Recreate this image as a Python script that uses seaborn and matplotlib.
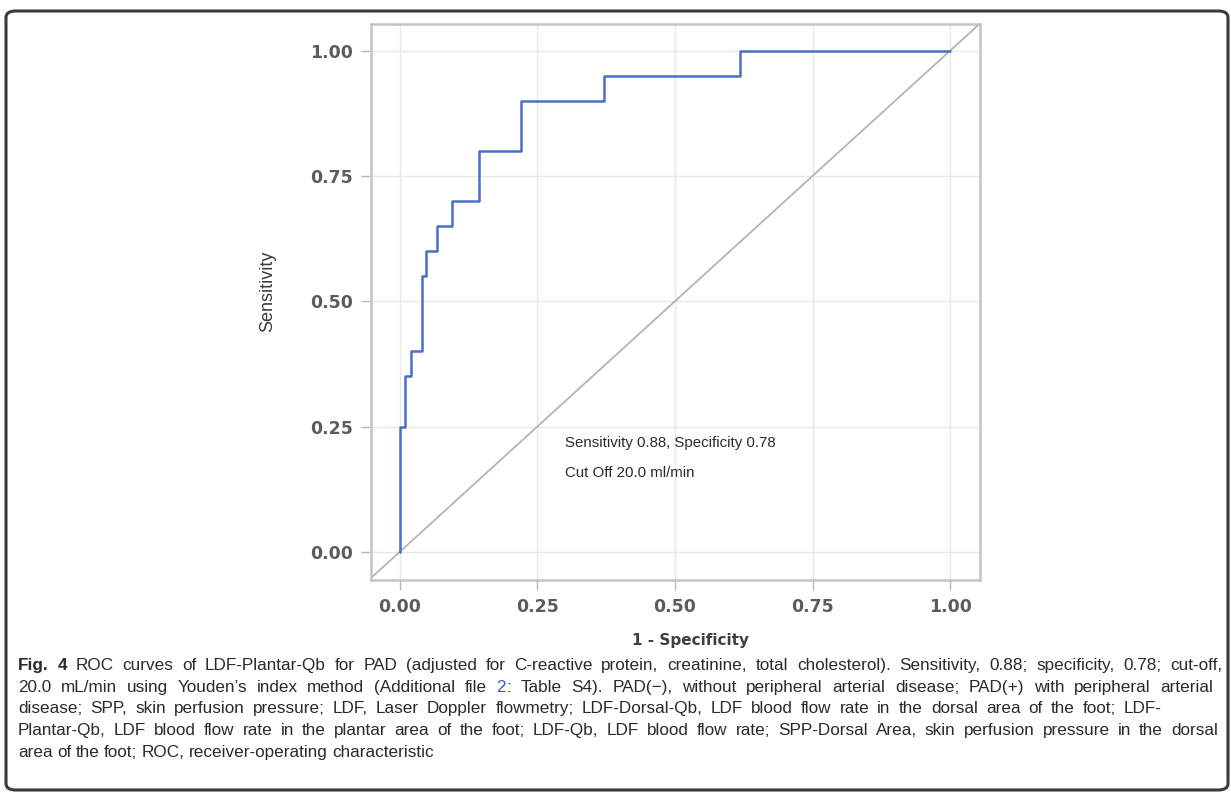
import matplotlib
matplotlib.use("Agg")
import matplotlib.pyplot as plt
from matplotlib.patches import FancyBboxPatch
import seaborn as sns
import pandas as pd

# ---- data ----
fpr = [0.0, 0.0, 0.01, 0.02, 0.04, 0.047, 0.068, 0.095, 0.144, 0.221, 0.372, 0.618, 1.0]
tpr = [0.0, 0.25, 0.35, 0.40, 0.55, 0.60, 0.65, 0.70, 0.80, 0.90, 0.95, 1.00, 1.00]
ticks = [0.0, 0.25, 0.5, 0.75, 1.0]
tick_labels = ["0.00", "0.25", "0.50", "0.75", "1.00"]
x_label = "1 - Specificity"
y_label = "Sensitivity"
annot_lines = ["Sensitivity 0.88, Specificity 0.78", "Cut Off 20.0 ml/min"]
caption_lines = [
    "Fig. 4 ROC curves of LDF-Plantar-Qb for PAD (adjusted for C-reactive protein, creatinine, total cholesterol). Sensitivity, 0.88; specificity, 0.78; cut-off,",
    "20.0 mL/min using Youden\u2019s index method (Additional file 2: Table S4). PAD(\u2212), without peripheral arterial disease; PAD(+) with peripheral arterial",
    "disease; SPP, skin perfusion pressure; LDF, Laser Doppler flowmetry; LDF-Dorsal-Qb, LDF blood flow rate in the dorsal area of the foot; LDF-",
    "Plantar-Qb, LDF blood flow rate in the plantar area of the foot; LDF-Qb, LDF blood flow rate; SPP-Dorsal Area, skin perfusion pressure in the dorsal",
    "area of the foot; ROC, receiver-operating characteristic",
]

df = pd.DataFrame({"fpr": fpr, "tpr": tpr})

sns.set_theme(style="whitegrid")
plt.rcParams["font.family"] = ["DejaVu Sans"]
narrow = ["Liberation Sans Narrow", "Liberation Sans", "DejaVu Sans"]

W, H = 1231, 794
fig = plt.figure(figsize=(W / 100, H / 100), dpi=100)
fig.patch.set_facecolor("white")

# outer rounded frame
frame = FancyBboxPatch((6 / W, 4 / H), (1222 / W), (779 / H),
                       boxstyle="round,pad=0,rounding_size=0.008",
                       transform=fig.transFigure, fill=False,
                       edgecolor="#3a3a3a", linewidth=2.2, zorder=0)
fig.patches.append(frame)

ax = fig.add_axes([371 / W, 1 - 580 / H, (980 - 371) / W, (580 - 24) / H])
ax.set_facecolor("white")

ax.axline((0, 0), (1, 1), color="#b4b4b4", linewidth=1.3, zorder=2)
sns.lineplot(data=df, x="fpr", y="tpr", estimator=None, sort=False,
             drawstyle="steps-post", color="#4a6fc6", linewidth=1.8,
             ax=ax, zorder=3)

ax.set_xlim(-0.052, 1.054)
ax.set_ylim(-0.056, 1.053)
ax.set_xticks(ticks)
ax.set_yticks(ticks)
ax.set_xticklabels(tick_labels)
ax.set_yticklabels(tick_labels)
ax.grid(True, color="#e8e8e8", linewidth=1.0)
for s in ax.spines.values():
    s.set_visible(True)
    s.set_color("#c4c4c4")
    s.set_linewidth(1.8)
ax.tick_params(axis="both", which="major", length=7, width=1.0, color="#b8b8b8",
               labelsize=12.5, labelcolor="#5c5c5c", pad=6, bottom=True, left=True)
for lab in ax.get_xticklabels() + ax.get_yticklabels():
    lab.set_fontweight("bold")

ax.set_xlabel(x_label, fontsize=11, fontweight="bold", color="#3f3f3f")
ax.xaxis.set_label_coords((690 - 371) / 609, -(640 - 580) / 556)
ax.xaxis.label.set_va("center")
ax.set_ylabel(y_label, fontsize=13, color="#3a3a3a", family=narrow)
ax.yaxis.set_label_coords(-(371 - 268) / 609, (580 - 291) / 556)
ax.yaxis.label.set_va("center")

ax.text(0.30, 0.217, annot_lines[0], fontsize=10.8, color="#2a2a2a",
        family=narrow, ha="left", va="center")
ax.text(0.30, 0.157, annot_lines[1], fontsize=10.8, color="#2a2a2a",
        family=narrow, ha="left", va="center")

# ---- justified caption ----
fig.canvas.draw()
renderer = fig.canvas.get_renderer()
line_base = [670, 692, 713, 735, 757]
line_right = [1222, 1213, 1162, 1218, None]
x_left = 18
cap_size = 12.3
for i, line in enumerate(caption_lines):
    words = line.split(" ")
    yb = 1 - line_base[i] / H
    texts = []
    widths = []
    for j, w in enumerate(words):
        weight = "bold" if (i == 0 and j < 2) else "normal"
        if i == 1 and w == "2:":
            t1 = fig.text(0, yb, "2", fontsize=cap_size, family=narrow,
                          color="#3a5bd0", va="baseline", ha="left")
            t2 = fig.text(0, yb, ":", fontsize=cap_size, family=narrow,
                          color="#2a2a2a", va="baseline", ha="left")
            w1 = t1.get_window_extent(renderer).width
            w2 = t2.get_window_extent(renderer).width
            texts.append([t1, t2])
            widths.append(w1 + w2)
            continue
        t = fig.text(0, yb, w, fontsize=cap_size, family=narrow,
                     fontweight=weight, color="#2a2a2a", va="baseline", ha="left")
        texts.append([t])
        widths.append(t.get_window_extent(renderer).width)
    if line_right[i] is not None and len(words) > 1:
        gap = (line_right[i] - x_left - sum(widths)) / (len(words) - 1)
    else:
        gap = 4.5
    x = x_left
    for grp, w in zip(texts, widths):
        grp[0].set_x(x / W)
        if len(grp) > 1:
            grp[1].set_x((x + grp[0].get_window_extent(renderer).width) / W)
        x += w + gap

fig.savefig("out.png", dpi=100, facecolor="white")
